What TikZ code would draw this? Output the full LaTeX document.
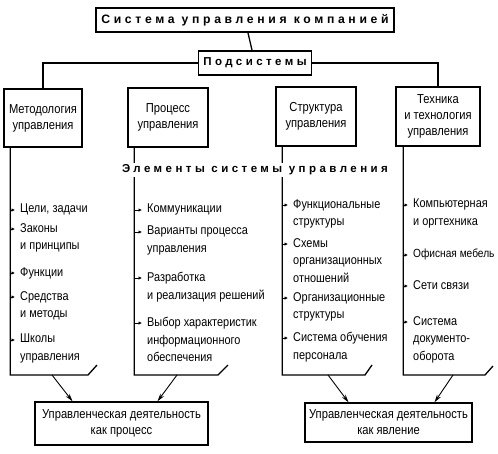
\documentclass[tikz,border=0pt]{standalone}
\usepackage{fontspec}
\setmainfont[FakeStretch=0.86]{Liberation Sans}
\newfontfamily\spacedfont[LetterSpace=30]{Liberation Sans}
\usetikzlibrary{arrows.meta,calc}
\tikzset{
    base/.style={font=\fontsize{13}{16}\selectfont, align=center},
    spaced/.style={font=\spacedfont\bfseries\fontsize{11.5}{13}\selectfont, inner sep=2pt},
    head/.style={spaced, rectangle, draw, line width=1.8pt, minimum height=24pt, inner xsep=5pt},
    block/.style={base, rectangle, draw, line width=1.4pt, inner sep=0pt},
    item/.style={font=\fontsize{12.7}{17.5}\selectfont, align=left, anchor=north west, inner sep=0pt},
    column/.style={line width=1.3pt},
    pin/.style={-{Latex[length=3.5pt,width=3.5pt]}, line width=0.6pt},
    flow/.style={-{Stealth[length=8pt,width=4.5pt]}, line width=0.9pt}
}
\begin{document}
\begin{tikzpicture}[x=1pt, y=-1pt]
  \useasboundingbox (0,0) rectangle (498,453);

  % top of the tree
  \node[head, minimum width=296pt, font=\spacedfont\bfseries\fontsize{12.2}{14}\selectfont] (title) at (245,20) {Система управления компанией};
  \node[head, minimum width=110pt, line width=1.4pt] (sub) at (255,63) {Подсистемы};
  \draw[line width=1.3pt] (title) -- (sub);

  \node[block, minimum width=78pt, minimum height=58pt] (meth) at (43,118) {Методология\\управления};
  \node[block, minimum width=80pt, minimum height=59pt] (proc) at (168,117.5) {Процесс\\управления};
  \node[block, minimum width=80pt, minimum height=59pt] (stru) at (316,116.5) {Структура\\управления};
  \node[block, minimum width=84pt, minimum height=59pt] (tech) at (438,116.5) {Техника\\и технология\\управления};
  \draw[line width=1.3pt] (sub.west) -| (meth.north);
  \draw[line width=1.3pt] (sub.east) -| (tech.north);

  % columns of elements
  \coordinate (c1) at ([xshift=7pt]meth.south west);
  \coordinate (c2) at ([xshift=7pt]proc.south west);
  \coordinate (c3) at ([xshift=7pt]stru.south west);
  \coordinate (c4) at ([xshift=8pt]tech.south west);
  \draw[column] (c1) -- (c1 |- 0,375) -- (88,375) -- (97,365);
  \draw[column] (c2) -- (c2 |- 0,375) -- (218,375) -- (228,365);
  \draw[column] (c3) -- (c3 |- 0,375) -- (365,375) -- (372,365);
  \draw[column] (c4) -- (c4 |- 0,375) -- (485,375) -- (493,366);

  \node[spaced, fill=white] (elem) at (255,170) {Элементы системы управления};

  \foreach \y/\txt [count=\i] in {204/{Цели, задачи}, 223/{Законы\\и принципы}, 267/{Функции},
      291/{Средства\\и методы}, 334/{Школы\\управления}} {
    \node[item] (ma\i) at (20,\y) {\txt};
    \draw[pin] ($(c1 |- ma\i.north)+(0,6)$) -- ($(ma\i.north west)+(-5,6)$);
  }
  \foreach \y/\txt [count=\i] in {204/{Коммуникации}, 226/{Варианты процесса\\управления},
      272/{Разработка\\и реализация решений}, 317/{Выбор характеристик\\информационного\\обеспечения}} {
    \node[item] (mb\i) at (147,\y) {\txt};
    \draw[pin] ($(c2 |- mb\i.north)+(0,6)$) -- ($(mb\i.north west)+(-5,6)$);
  }
  \foreach \y/\txt [count=\i] in {199/{Функциональные\\структуры}, 238/{Схемы\\организационных\\отношений},
      292/{Организационные\\структуры}, 332/{Система обучения\\персонала}} {
    \node[item] (mc\i) at (293,\y) {\txt};
    \draw[pin] ($(c3 |- mc\i.north)+(0,6)$) -- ($(mc\i.north west)+(-5,6)$);
  }
  \foreach \y/\txt [count=\i] in {199/{Компьютерная\\и оргтехника}, 249/{\fontsize{11.8}{17.5}\selectfont Офисная мебель},
      280/{Сети связи}, 316/{Система\\документо-\\оборота}} {
    \node[item] (md\i) at (413,\y) {\txt};
    \draw[pin] ($(c4 |- md\i.north)+(0,6)$) -- ($(md\i.north west)+(-5,6)$);
  }

  % results
  \node[block, minimum width=173pt, minimum height=43pt] (res1) at (121.5,423.5) {Управленческая деятельность\\как процесс};
  \node[block, minimum width=167pt, minimum height=39pt] (res2) at (388.5,422.5) {Управленческая деятельность\\как явление};
  \coordinate (o1) at (52,375);
  \coordinate (o2) at (177,375);
  \coordinate (o3) at (328,375);
  \coordinate (o4) at (453,375);
  \draw[flow] (o1) -- ([xshift=-49pt]res1.north);
  \draw[flow] (o2) -- ([xshift=36pt]res1.north);
  \draw[flow] (o3) -- ([xshift=-40pt]res2.north);
  \draw[flow] (o4) -- ([xshift=46pt]res2.north);
\end{tikzpicture}
\end{document}
